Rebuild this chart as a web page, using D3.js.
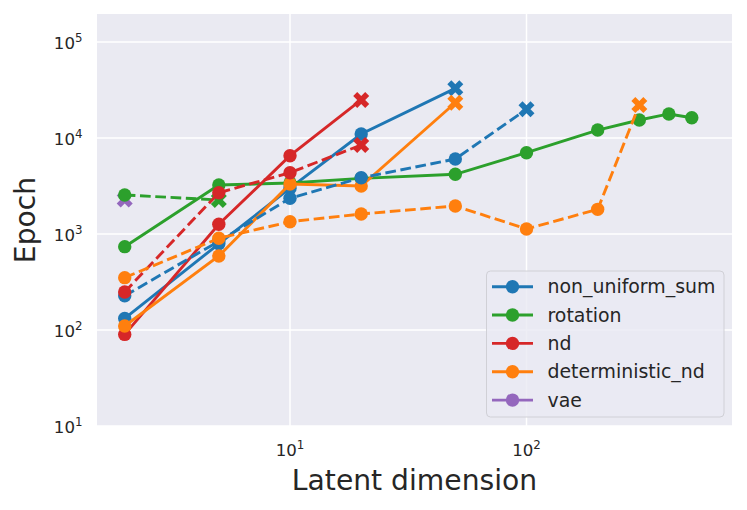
<!DOCTYPE html>
<html><head><meta charset="utf-8">
<script src="https://cdn.jsdelivr.net/npm/d3@7"></script>
<style>body{margin:0;background:#fff}svg{display:block;font-family:"DejaVu Sans",sans-serif}</style>
</head><body><svg id="c" width="747" height="510"></svg>
<script>
// ---- data ----
const dims = [2, 5, 10, 20, 50, 100, 200, 300, 400, 500];
const methods = ["non_uniform_sum", "rotation", "nd", "deterministic_nd", "vae"];
const colors = ["#1f77b4", "#2ca02c", "#d62728", "#ff7f0e", "#9467bd"];
// solid runs (values over dims, in order); last point of a run marked with X when flagged
const nusSolid = [132, 790, 3000, 11000, 32900];
const rotSolid = [738, 3240, 3400, 3800, 4190, 7030, 12100, 15400, 17800, 16260];
const ndSolid = [90, 1262, 6540, 24900];
const detSolid = [110, 590, 3320, 3160, 23300];
const vaeSolid = [2290];
// dashed runs
const nusDashed = [227, 840, 2355, 3850, 6040, 19900];
const rotDashed = [2550, 2260];
const ndDashed = [249, 2690, 4350, 8450];
const detDashed = [351, 902, 1343, 1616, 1958, 1128, 1806, 22100];
const solidEndsX = [true, false, true, true, true];
const dashedEndsX = [true, true, true, true];
const xTicks = [10, 100];
const yTicks = [10, 100, 1000, 10000, 100000];

// ---- layout ----
const L = 97, R = 732, T = 14, B = 426;
const svg = d3.select("#c");
const x = d3.scaleLog().domain([1.527, 739.6]).range([L, R]);
const y = d3.scaleLog().domain([10, 195700]).range([B, T]);
const txt = "#262626";

svg.append("rect").attr("x", L).attr("y", T).attr("width", R - L).attr("height", B - T).attr("fill", "#EAEAF2");
const grid = svg.append("g").attr("stroke", "#fff").attr("stroke-width", 1.5);
xTicks.forEach(t => grid.append("line").attr("x1", x(t)).attr("x2", x(t)).attr("y1", T).attr("y2", B));
yTicks.forEach(t => grid.append("line").attr("x1", L).attr("x2", R).attr("y1", y(t)).attr("y2", y(t)));

function pow10Label(sel, t) {
  const e = Math.round(Math.log10(t));
  sel.append("tspan").text("10");
  sel.append("tspan").attr("font-size", 11.8).attr("dy", -7).text(e);
}
xTicks.forEach(t => {
  const tx = svg.append("text").attr("x", x(t)).attr("y", 456).attr("text-anchor", "middle")
    .attr("font-size", 16.6).attr("fill", txt);
  pow10Label(tx, t);
});
yTicks.forEach(t => {
  const tx = svg.append("text").attr("x", 82.5).attr("y", y(t) + 7).attr("text-anchor", "end")
    .attr("font-size", 16.6).attr("fill", txt);
  pow10Label(tx, t);
});
svg.append("text").attr("x", (L + R) / 2).attr("y", 490).attr("text-anchor", "middle")
  .attr("font-size", 28.2).attr("fill", txt).text("Latent dimension");
svg.append("text").attr("transform", `translate(35,${(T + B) / 2}) rotate(-90)`).attr("text-anchor", "middle")
  .attr("font-size", 28.2).attr("fill", txt).text("Epoch");

// ---- marks ----
const line = d3.line().x(d => x(d[0])).y(d => y(d[1]));
const lw = 2.9;
function xPath(s) {
  const p = [[0.25,0],[0.5,0.25],[0.75,0],[1,0.25],[0.75,0.5],[1,0.75],[0.75,1],[0.5,0.75],[0.25,1],[0,0.75],[0.25,0.5],[0,0.25]];
  return "M" + p.map(q => [(q[0] - 0.5) * s, (q[1] - 0.5) * s].join(",")).join("L") + "Z";
}
function drawRun(vals, color, dashed, endX) {
  const pts = vals.map((v, i) => [dims[i], v]);
  const g = svg.append("g");
  if (pts.length > 1) {
    g.append("path").attr("d", line(pts)).attr("fill", "none").attr("stroke", color)
      .attr("stroke-width", lw).attr("stroke-dasharray", dashed ? "10.7,4.6" : null);
  }
  pts.forEach((p, i) => {
    if (endX && i === pts.length - 1) {
      g.append("path").attr("d", xPath(16)).attr("transform", `translate(${x(p[0])},${y(p[1])})`).attr("fill", color);
    } else {
      g.append("circle").attr("cx", x(p[0])).attr("cy", y(p[1])).attr("r", 6.7).attr("fill", color);
    }
  });
}
const solids = [nusSolid, rotSolid, ndSolid, detSolid, vaeSolid];
const dashes = [nusDashed, rotDashed, ndDashed, detDashed];
solids.forEach((s, i) => drawRun(s, colors[i], false, solidEndsX[i]));
dashes.forEach((s, i) => drawRun(s, colors[i], true, dashedEndsX[i]));

// ---- legend ----
const lg = svg.append("g");
lg.append("rect").attr("x", 486.5).attr("y", 271).attr("width", 237.5).attr("height", 146).attr("rx", 4)
  .attr("fill", "#EAEAF2").attr("fill-opacity", 0.8).attr("stroke", "#d0d0d6").attr("stroke-width", 1);
methods.forEach((m, i) => {
  const yy = 286.7 + i * 28.35;
  lg.append("line").attr("x1", 492).attr("x2", 533).attr("y1", yy).attr("y2", yy).attr("stroke", colors[i]).attr("stroke-width", lw);
  lg.append("circle").attr("cx", 512.5).attr("cy", yy).attr("r", 6.7).attr("fill", colors[i]);
  lg.append("text").attr("x", 547.5).attr("y", yy + 6.5).attr("font-size", 18.9).attr("fill", txt).text(m);
});
</script></body></html>
